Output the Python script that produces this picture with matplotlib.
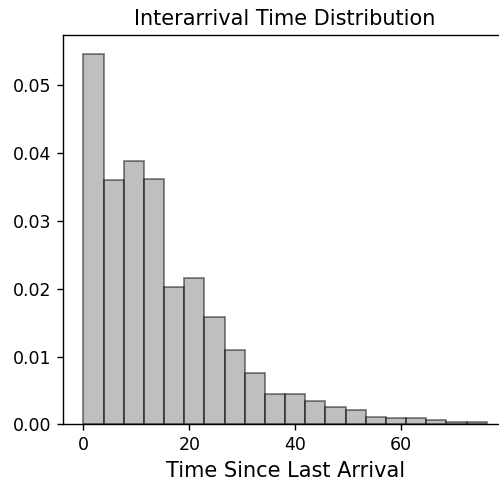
import numpy as np
import matplotlib
matplotlib.use("Agg")
import matplotlib.pyplot as plt

# histogram (density): 20 bins of equal width starting at 0
bin_start = 0.0
bin_width = 3.81
densities = [0.0547, 0.0360, 0.0388, 0.0362, 0.0202, 0.0216, 0.0159, 0.0110,
             0.0075, 0.00448, 0.00448, 0.00345, 0.00261, 0.00207, 0.00113,
             0.00094, 0.00094, 0.00064, 0.00040, 0.00040]

edges = bin_start + bin_width * np.arange(len(densities) + 1)

DPI = 125
fig = plt.figure(figsize=(499 / DPI, 481 / DPI), dpi=DPI)
# axes run past the right edge of the figure, as in the original (cropped) image
ax = fig.add_axes([63.3 / 499, 1 - 424.3 / 481, (507 - 63.3) / 499, (424.3 - 35) / 481])

ax.bar(edges[:-1], densities, width=bin_width, align="edge",
       color="gray", edgecolor="black", alpha=0.5, linewidth=1)

ax.set_title("Interarrival Time Distribution", fontsize=12)
ax.set_xlabel("Time Since Last Arrival", fontsize=12)
ax.set_xticks([0, 20, 40, 60])

fig.savefig("out.png", dpi=DPI)
